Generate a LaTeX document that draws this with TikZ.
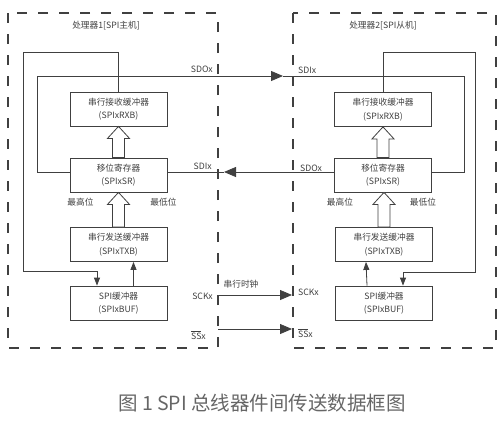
\documentclass[tikz,border=0pt]{standalone}
\usepackage{fontspec}
\setmainfont{Noto Sans CJK SC}
\usetikzlibrary{arrows.meta,calc}

\definecolor{ink}{gray}{0.25}

\tikzset{
  block/.style={draw=ink, line width=0.8pt, minimum width=97pt, minimum height=34pt,
    align=center, inner sep=1pt, text=ink, font=\fontsize{8.7}{13.5}\selectfont},
  wire/.style={draw=ink, line width=0.8pt},
  tipS/.style={-{Triangle[length=8pt,width=6pt]}},
  tipL/.style={-{Triangle[length=12pt,width=10pt]}},
  hollow/.style={draw=ink, line width=0.8pt, fill=white},
  border/.style={draw=ink, line width=1.3pt, dash pattern=on 10pt off 11pt},
  lbl/.style={text=ink, inner sep=1pt, font=\fontsize{8.7}{10}\selectfont},
}

% hollow arrow from the top of #1 to the bottom of #2
\newcommand{\hollowarrow}[2]{%
  \coordinate (ha tip) at (#1.north |- #2.south);
  \draw[hollow] ($(#1.north)+(-6,0)$) -- ($(ha tip)+(-6,12)$) -- ($(ha tip)+(-11,12)$)
    -- (ha tip) -- ($(ha tip)+(11,12)$) -- ($(ha tip)+(6,12)$) -- ($(#1.north)+(6,0)$) -- cycle;}

\begin{document}
\begin{tikzpicture}[x=1pt, y=-1pt]
	\useasboundingbox (0,0) rectangle (504,421);

	%processors
	\draw[border] (8,13) rectangle (218,348);
	\draw[border] (293,13) rectangle (496,348);
	\node[lbl] (titleA) at (106,26) {处理器1[SPI主机]};
	\node[lbl] (titleB) at (383,26) {处理器2[SPI从机]};

	%blocks master
	\node[block] (rxbA) at (118.5,109) {串行接收缓冲器\\(SPIxRXB)};
	\node[block] (srA) at (118.5,175) {移位寄存器\\(SPIxSR)};
	\node[block] (txbA) at (118.5,244.5) {串行发送缓冲器\\(SPIxTXB)};
	\node[block] (bufA) at (118.5,303) {SPI缓冲器\\(SPIxBUF)};

	%blocks slave
	\node[block] (rxbB) at (383,109.5) {串行接收缓冲器\\(SPIxRXB)};
	\node[block] (srB) at (383,175) {移位寄存器\\(SPIxSR)};
	\node[block] (txbB) at (384,244.5) {串行发送缓冲器\\(SPIxTXB)};
	\node[block] (bufB) at (384,303) {SPI缓冲器\\(SPIxBUF)};

	%bit order
	\node[lbl] (msbA) at ([shift={(-38,10)}]srA.south) {最高位};
	\node[lbl] (lsbA) at ([shift={(45,10)}]srA.south) {最低位};
	\node[lbl] (msbB) at ([shift={(-43,10)}]srB.south) {最高位};
	\node[lbl] (lsbB) at ([shift={(40,10)}]srB.south) {最低位};

	%internal transfers
	\hollowarrow{srA}{rxbA}
	\hollowarrow{txbA}{srA}
	\hollowarrow{srB}{rxbB}
	\hollowarrow{txbB}{srB}
	\draw[wire,tipS] ([xshift=15pt]bufA.north) -- ([xshift=15pt]txbA.south);
	\draw[wire,tipS] ([xshift=-17pt]bufB.north) -- ([xshift=-18pt]txbB.south);

	%receive loops
	\coordinate (loopA1) at (23,52);
	\coordinate (loopA2) at (97,271);
	\draw[wire] (rxbA.north) |- (loopA1) |- (loopA2);
	\draw[wire,tipS] (loopA2) -- (loopA2 |- bufA.north);
	\coordinate (loopB1) at (475,52);
	\coordinate (loopB2) at (403,272);
	\draw[wire] (rxbB.north) |- (loopB1) |- (loopB2);
	\draw[wire,tipS] (loopB2) -- (loopB2 |- bufB.north);

	%data lines
	\coordinate (sdoA) at (37,76);
	\coordinate (sdoMid) at (283,76);
	\coordinate (sdiB) at (464,76);
	\draw[wire,tipL] ([yshift=3pt]srA.west) -| (sdoA) -- (sdoMid);
	\draw[wire] (sdoMid) -- (sdiB) |- ([yshift=3pt]srB.east);
	\coordinate (sdiMid) at (224,172);
	\draw[wire,tipL] ([yshift=3pt]srB.west) -- (sdiMid);
	\draw[wire] (sdiMid) -- ([yshift=3pt]srA.east);

	%clock and select
	\coordinate (sckA) at (218,295);
	\coordinate (sckB) at (292,295);
	\coordinate (ssA) at (218,329);
	\coordinate (ssB) at (292,329);
	\draw[wire,tipL] (sckA) -- (sckB);
	\draw[wire,tipL] (ssA) -- (ssB);
	\node[lbl] (clk) at (241,284) {串行时钟};

	%pin labels
	\node[lbl,anchor=east] (sdoLA) at (214,69) {SDOx};
	\node[lbl,anchor=east] (sdiLA) at (213,166) {SDIx};
	\node[lbl,anchor=east] (sckLA) at (214,296) {SCKx};
	\node[lbl,anchor=east] (ssLA) at (207,335) {$\overline{\hbox{SS}}$x};
	\node[lbl,anchor=west] (sdiLB) at (297,70) {SDIx};
	\node[lbl,anchor=west] (sdoLB) at (299,168) {SDOx};
	\node[lbl,anchor=west] (sckLB) at (297,292) {SCKx};
	\node[lbl,anchor=west] (ssLB) at (297,333) {$\overline{\hbox{SS}}$x};

	%caption
	\node[text=ink!80, font=\fontsize{19.5}{22}\selectfont] (caption) at (262,403) {图 1 SPI 总线器件间传送数据框图};
\end{tikzpicture}
\end{document}
